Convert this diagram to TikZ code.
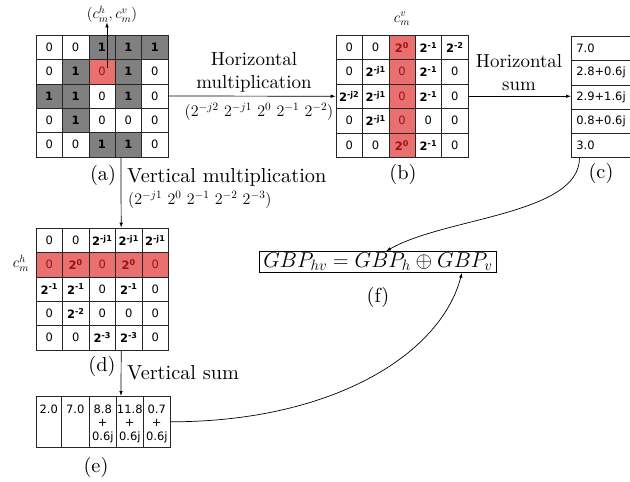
\RequirePackage{fix-cm}
\documentclass[tikz,border=0pt]{standalone}
\usepackage{fontspec}
\setmainfont{lmroman10-regular.otf}
\newfontfamily\cellfont{DejaVu Sans}
\usetikzlibrary{arrows.meta}
\definecolor{cgray}{RGB}{128,128,128}
\definecolor{cred}{RGB}{234,112,112}
\definecolor{ctxt}{RGB}{150,20,20}
\newcommand\tp[1]{\textbf{2\textsuperscript{#1}}}
\newcommand\bo{\textbf{1}}
\begin{document}
\begin{tikzpicture}[x=1pt,y=-1pt,
  cellbase/.style={draw=black!85,line width=0.6pt,inner sep=0pt,font=\cellfont\fontsize{11.5}{13.5}\selectfont},
  cw/.style={cellbase},
  cg/.style={cellbase,fill=cgray},
  cr/.style={cellbase,fill=cred,text=ctxt},
  lbl/.style={font=\fontsize{20.3}{23}\selectfont,align=center,inner sep=0pt},
  hlbl/.style={font=\fontsize{18.9}{23}\selectfont,align=center,inner sep=0pt},
  sml/.style={font=\fontsize{16}{18}\selectfont,inner sep=0pt},
  cml/.style={font=\fontsize{15}{17}\selectfont,inner sep=0pt},
  arr/.style={-{Latex[length=5pt,width=3.5pt]},line width=0.7pt},
]
\useasboundingbox (0,0) rectangle (630,482);
\clip (0,0) rectangle (630,482);

% grid (a)
\foreach \r/\vals in {1/{0/cw,0/cw,\bo/cg,\bo/cg,\bo/cg},2/{0/cw,\bo/cg,0/cr,\bo/cg,0/cw},3/{\bo/cg,\bo/cg,0/cw,\bo/cg,0/cw},4/{0/cw,\bo/cg,0/cw,0/cw,0/cw},5/{0/cw,0/cw,\bo/cg,\bo/cg,0/cw}}{
  \foreach \v/\s [count=\c] in \vals {
    \node[style=\s,minimum width=26.4pt,minimum height=24.4pt] (a-\r-\c) at ({36+(\c-0.5)*26.4},{35+(\r-0.5)*24.4}) {\v};
  }
}
% grid (b)
\foreach \r/\vals in {1/{0/cw,0/cw,\tp{0}/cr,\tp{-1}/cw,\tp{-2}/cw},2/{0/cw,\tp{-j1}/cw,0/cr,\tp{-1}/cw,0/cw},3/{\tp{-j2}/cw,\tp{-j1}/cw,0/cr,\tp{-1}/cw,0/cw},4/{0/cw,\tp{-j1}/cw,0/cr,0/cw,0/cw},5/{0/cw,0/cw,\tp{0}/cr,\tp{-1}/cw,0/cw}}{
  \foreach \v/\s [count=\c] in \vals {
    \node[style=\s,minimum width=26.4pt,minimum height=24.5pt] (b-\r-\c) at ({336+(\c-0.5)*26.4},{35+(\r-0.5)*24.5}) {\v};
  }
}
% grid (d)
\foreach \r/\vals in {1/{0/cw,0/cw,\tp{-j1}/cw,\tp{-j1}/cw,\tp{-j1}/cw},2/{0/cr,\tp{0}/cr,0/cr,\tp{0}/cr,0/cr},3/{\tp{-1}/cw,\tp{-1}/cw,0/cw,\tp{-1}/cw,0/cw},4/{0/cw,\tp{-2}/cw,0/cw,0/cw,0/cw},5/{0/cw,0/cw,\tp{-3}/cw,\tp{-3}/cw,0/cw}}{
  \foreach \v/\s [count=\c] in \vals {
    \node[style=\s,minimum width=26.5pt,minimum height=24.4pt] (d-\r-\c) at ({36+(\c-0.5)*26.5},{228+(\r-0.5)*24.4}) {\v};
  }
}
% column (c)
\foreach \v [count=\i] in {7.0,2.8+0.6j,2.9+1.6j,0.8+0.6j,3.0}{
  \node[cellbase,minimum width=70pt,minimum height=24.2pt,text width=60pt,align=left,inner xsep=5pt,anchor=west] (c-\i) at (571,{36.5+(\i-0.5)*24.2}) {\v};
}
% row (e)
\foreach \l/\w/\t [count=\i] in {36/25/2.0,61/28/7.0,89/27/{8.8\\+\\0.6j},116/27/{11.8\\+\\0.6j},143/27/{0.7\\+\\0.6j}}{
  \node[cellbase,minimum width=\w*1pt,minimum height=51pt,anchor=north west] (e-\i) at (\l,396) {};
  \node[font=\cellfont\fontsize{11.5}{13.5}\selectfont,align=center,anchor=north,inner sep=0pt] (et-\i) at ([yshift=-8.5pt]e-\i.north) {\t};
}

% labels
\node[hlbl] (hm) at (254,72.5) {Horizontal\\multiplication};
\node[sml] (hmx) at (259,112) {$(2^{-j2}\ 2^{-j1}\ 2^{0}\ 2^{-1}\ 2^{-2})$};
\node[hlbl] (hs) at (519,72.5) {Horizontal\\sum};
\node[lbl,anchor=west] (vm) at (127,177) {Vertical multiplication};
\node[sml,anchor=west] (vmx) at (128,200) {$(2^{-j1}\ 2^{0}\ 2^{-1}\ 2^{-2}\ 2^{-3})$};
\node[lbl,anchor=west] (vs) at (127,373) {Vertical sum};
\node[lbl] (la) at (103,175) {(a)};
\node[lbl] (lb) at (403,174) {(b)};
\node[lbl] (lc) at (601,173) {(c)};
\node[lbl] (ld) at (102,366) {(d)};
\node[lbl] (le) at (96,467) {(e)};
\node[lbl] (lf) at (378,297) {(f)};
\node[cml] (cmhv) at (112,14) {$(c_m^h, c_m^v)$};
\node[cml] (cmv) at (402,19) {$c_m^v$};
\node[cml] (cmh) at (21,263) {$c_m^h$};

\node[draw,line width=0.6pt,font=\fontsize{21.5}{23}\selectfont,inner xsep=4pt,inner ysep=1.5pt] (f) at (378,262) {$GBP_{hv}=GBP_h\oplus GBP_v$};

% connectors
\coordinate (pa) at (107,68);
\draw[arr] (pa) -- (pa |- cmhv.south);
\draw[arr] (a-3-5.east) -- (b-3-1.west);
\draw[arr] (b-3-5.east) -- (b-3-5.east -| c-3.west);
\draw[arr] ([xshift=6pt]a-5-4.south west) -- ([xshift=6pt]d-1-4.north west);
\draw[arr] ([xshift=6pt]d-5-4.south west) -- ([xshift=5pt]e-4.north west);
\draw[arr] ([xshift=8.5pt]c-5.south west) .. controls +(0,57) and +(59,-34) .. ([xshift=8pt]f.north);
\draw[arr] (e-5.east) .. controls +(160,0) and +(-22,83) .. ([xshift=84pt]f.south);
\end{tikzpicture}
\end{document}
